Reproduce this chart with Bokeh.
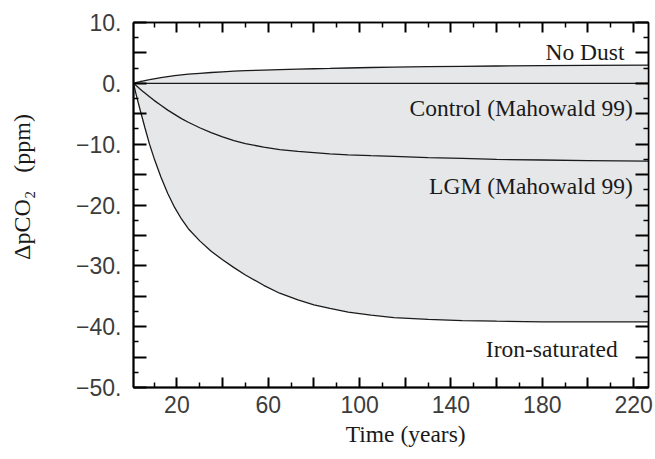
from bokeh.plotting import figure
from bokeh.models import FixedTicker, LinearAxis, Range1d
from bokeh.embed import file_html
from bokeh.resources import INLINE

# ---- data ----
time_years = [1, 2, 3, 4, 5, 6, 8, 10, 13, 16, 19, 22, 25, 30, 35, 40, 45, 50, 58, 65,
              73, 80, 87, 95, 105, 115, 130, 145, 160, 180, 200, 226.5]
no_dust = [0, 0.1, 0.2, 0.3, 0.38, 0.46, 0.6, 0.75, 0.95, 1.12, 1.27, 1.4, 1.5, 1.65, 1.78,
           1.9, 2.0, 2.08, 2.18, 2.26, 2.34, 2.4, 2.45, 2.52, 2.6, 2.66, 2.74, 2.8, 2.85,
           2.9, 2.95, 3.0]
control = [0] * 32
lgm = [0, -0.33, -0.65, -0.98, -1.3, -1.6, -2.2, -2.8, -3.6, -4.4, -5.1, -5.8, -6.4, -7.3,
       -8.1, -8.8, -9.4, -9.9, -10.5, -10.9, -11.2, -11.4, -11.6, -11.75, -11.9, -12.0,
       -12.2, -12.35, -12.5, -12.6, -12.7, -12.8]
iron = [0, -1.6, -3.1, -4.5, -5.9, -7.3, -10.0, -12.3, -15.4, -18.1, -20.4, -22.3, -23.9,
        -25.9, -27.6, -29.0, -30.3, -31.5, -33.2, -34.5, -35.6, -36.4, -37.0, -37.6, -38.1,
        -38.5, -38.8, -39.0, -39.1, -39.2, -39.2, -39.2]

x_major_ticks = [20, 40, 60, 80, 100, 120, 140, 160, 180, 200, 220]
x_minor_ticks = [10, 30, 50, 70, 90, 110, 130, 150, 170, 190, 210]
x_tick_labels = {20: "20", 60: "60", 100: "100", 140: "140", 180: "180", 220: "220"}
y_major_ticks = [-50, -45, -40, -35, -30, -25, -20, -15, -10, -5, 0, 5, 10]
y_minor_ticks = [-47.5, -42.5, -37.5, -32.5, -27.5, -22.5, -17.5, -12.5, -7.5, -2.5, 2.5, 7.5]
y_tick_labels = {-50: "\u221250.", -40: "\u221240.", -30: "\u221230.", -20: "\u221220.",
                 -10: "\u221210.", 0: "0.", 10: "10."}

curve_labels = ["No Dust", "Control (Mahowald 99)", "LGM (Mahowald 99)", "Iron-saturated"]
label_x = [216, 219.6, 219.6, 213]
label_y = [5.1, -4.1, -16.9, -43.6]

SERIF = "Liberation Serif"
SANS = "Liberation Sans"
NBSP = "\u00a0"

p = figure(width=653, height=455, x_range=Range1d(1, 226.5), y_range=Range1d(-50, 10),
           output_backend="svg", toolbar_location=None,
           min_border_left=133, min_border_right=5, min_border_top=22, min_border_bottom=68)
p.xgrid.visible = False
p.ygrid.visible = False
p.outline_line_color = "black"
p.outline_line_width = 1.5

# shaded envelope
p.varea(x=time_years, y1=iron, y2=no_dust, fill_color="#e6e7e9", fill_alpha=1.0)

for series in (no_dust, control, lgm, iron):
    p.line(time_years, series, line_color="#1a1a1a", line_width=1.3)

p.text(x=label_x, y=label_y, text=curve_labels, text_align="right",
       text_baseline="alphabetic", text_font={"value": SERIF}, text_font_size="23.5px",
       text_color="#1a1a1a")

xt = FixedTicker(ticks=x_major_ticks, minor_ticks=x_minor_ticks)
yt = FixedTicker(ticks=y_major_ticks, minor_ticks=y_minor_ticks)


def style(ax, ticker):
    ax.ticker = ticker
    ax.axis_line_color = "black"
    ax.axis_line_width = 2
    ax.major_tick_line_color = "black"
    ax.minor_tick_line_color = "black"
    ax.major_tick_line_width = 2
    ax.minor_tick_line_width = 1.5
    ax.major_tick_out = 0
    ax.minor_tick_out = 0
    ax.minor_tick_in = 5


xax = p.xaxis[0]
style(xax, xt)
xax.major_tick_in = 10
xax.major_label_overrides = {t: x_tick_labels.get(t, "") for t in x_major_ticks}
xax.major_label_text_font = SANS
xax.major_label_text_font_size = "23px"
xax.major_label_text_color = "#3c3c3c"
xax.major_label_standoff = 8
xax.axis_label = NBSP * 5 + "Time (years)"
xax.axis_label_text_font = SERIF
xax.axis_label_text_font_style = "normal"
xax.axis_label_text_font_size = "23.5px"
xax.axis_label_text_color = "#1a1a1a"
xax.axis_label_standoff = 5

yax = p.yaxis[0]
style(yax, yt)
yax.major_tick_in = 13
yax.major_label_overrides = {t: y_tick_labels.get(t, "") for t in y_major_ticks}
yax.major_label_text_font = SANS
yax.major_label_text_font_size = "23px"
yax.major_label_text_color = "#3c3c3c"
yax.major_label_standoff = 12
yax.axis_label = NBSP * 6 + "\u0394pCO\u2082" + NBSP * 3 + "(ppm)"
yax.axis_label_text_font = SERIF
yax.axis_label_text_font_style = "normal"
yax.axis_label_text_font_size = "24px"
yax.axis_label_text_color = "#1a1a1a"
yax.axis_label_standoff = 38

top = LinearAxis()
style(top, xt)
top.major_tick_in = 10
top.axis_line_width = 1.5
top.major_label_overrides = {t: "" for t in x_major_ticks}
top.major_label_text_font_size = "1px"
top.major_label_standoff = 0
p.add_layout(top, "above")

right = LinearAxis()
style(right, yt)
right.major_tick_in = 13
right.axis_line_width = 1.5
right.major_label_overrides = {t: "" for t in y_major_ticks}
right.major_label_text_font_size = "1px"
right.major_label_standoff = 0
p.add_layout(right, "right")

open("out.html", "w").write(file_html(p, INLINE))
